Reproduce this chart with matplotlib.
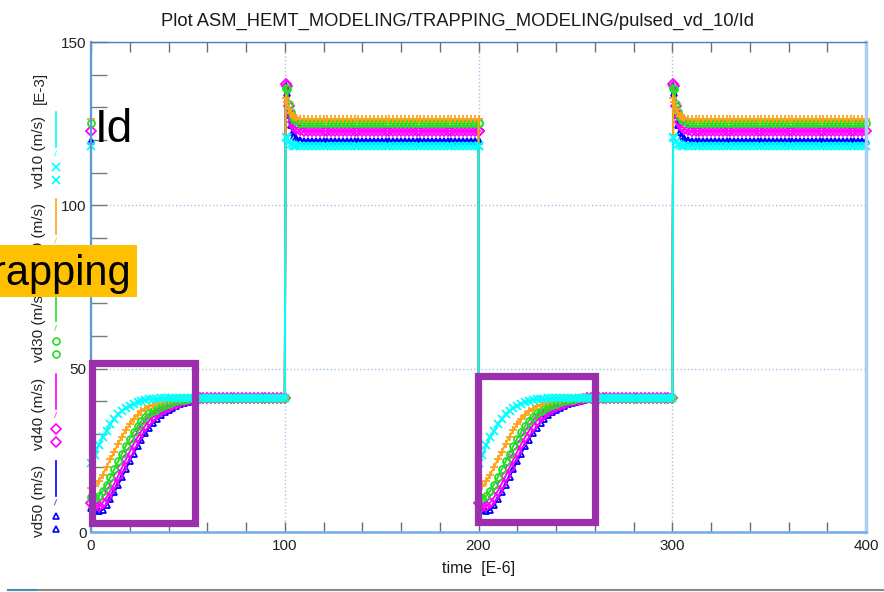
import numpy as np
import matplotlib.pyplot as plt
from matplotlib.patches import Rectangle
from matplotlib.lines import Line2D

plt.rcParams['font.family'] = ['Liberation Sans', 'DejaVu Sans']

W, H = 884, 592

# ---- data: one pulse period (off 0-100 us, on 100-200 us), Id in mA ----
series = ['vd10', 'vd20', 'vd30', 'vd40', 'vd50']

# off phase: t = 0 (end of previous pulse), then 0, 2, ..., 98
t_off = np.concatenate([[0.0], np.arange(0, 100, 2)])
off_start = {
    'vd10': [21.0, 23.5, 26.5, 29.0, 31.0, 33.0, 34.6, 36.0, 37.1, 38.0, 38.7, 39.3, 39.8, 40.1, 40.4,
             40.6, 40.7, 40.8, 40.9, 41.0, 41.0, 41.0, 41.0, 41.0, 41.0, 41.0, 41.0, 41.0, 41.0, 41.0],
    'vd20': [13.5, 14.0, 15.5, 17.5, 19.8, 22.2, 24.6, 27.0, 29.2, 31.2, 33.0, 34.6, 35.9, 37.0, 37.8,
             38.5, 39.0, 39.4, 39.8, 40.1, 40.3, 40.5, 40.7, 40.8, 40.9, 41.0, 41.0, 41.0, 41.0, 41.0],
    'vd30': [10.8, 10.3, 11.0, 12.5, 14.5, 16.8, 19.2, 21.6, 24.0, 26.4, 28.6, 30.6, 32.4, 34.0, 35.3,
             36.3, 37.1, 37.8, 38.4, 38.9, 39.3, 39.7, 40.0, 40.3, 40.5, 40.7, 40.9, 41.0, 41.0, 41.0],
    'vd40': [8.8, 8.0, 8.0, 9.0, 10.6, 12.6, 14.8, 17.2, 19.7, 22.2, 24.6, 26.9, 29.0, 30.9, 32.6,
             34.0, 35.2, 36.2, 37.0, 37.8, 38.4, 38.9, 39.3, 39.7, 40.0, 40.3, 40.5, 40.7, 40.9, 41.0],
    'vd50': [7.5, 6.8, 6.3, 6.8, 8.2, 10.0, 12.1, 14.4, 16.8, 19.3, 21.7, 24.0, 26.2, 28.3, 30.2,
             31.9, 33.4, 34.7, 35.8, 36.7, 37.5, 38.1, 38.6, 39.1, 39.5, 39.9, 40.2, 40.5, 40.7, 40.9],
}
off_settled = 41.0

# on phase: fast spike after the gate pulse, then settled current
t_on = np.concatenate([[100, 100.5, 101, 102, 103, 104, 105, 106, 108, 110], np.arange(112, 201, 2)])
on_start = {
    'vd10': [41.0, 121.0, 120.5, 119.5, 118.8, 118.5, 118.3, 118.2, 118.2, 118.2],
    'vd20': [41.0, 133.0, 131.5, 129.5, 128.2, 127.4, 126.9, 126.6, 126.4, 126.3],
    'vd30': [41.0, 136.0, 135.5, 131.0, 128.5, 127.0, 126.2, 125.7, 125.3, 125.1],
    'vd40': [41.0, 137.0, 136.5, 130.5, 127.5, 125.5, 124.3, 123.5, 123.0, 122.7],
    'vd50': [41.0, 136.5, 134.5, 127.5, 124.5, 122.5, 121.3, 120.6, 120.0, 119.7],
}
on_settled = {'vd10': 118.2, 'vd20': 126.3, 'vd30': 125.1, 'vd40': 122.7, 'vd50': 119.7}

n_periods = 2
period = 200

colors = {'vd10': '#00FFFF', 'vd20': '#FFA31A', 'vd30': '#22E022', 'vd40': '#FF00FF', 'vd50': '#0000FF'}
markers = {'vd10': 'x', 'vd20': '+', 'vd30': 'o', 'vd40': 'D', 'vd50': '^'}

# highlighted trapping windows (time range us, current range mA)
boxes = [((0.3, 53.7), (2.8, 51.7)), ((199.5, 259.9), (3.1, 47.8))]

fig = plt.figure(figsize=(W / 100, H / 100), dpi=100, facecolor='white')
ax = fig.add_axes([91 / W, 1 - 532 / H, 775 / W, 490 / H])

for name in reversed(series):
    n_flat = len(t_off) - 1 - len(off_start[name])
    y_off = [on_settled[name]] + off_start[name] + [off_settled] * n_flat
    y_on = on_start[name] + [on_settled[name]] * (len(t_on) - len(on_start[name]))
    t_one = np.concatenate([t_off, t_on])
    y_one = np.array(y_off + y_on)
    t_all = np.concatenate([t_one + k * period for k in range(n_periods)])
    y_all = np.tile(y_one, n_periods)
    hollow = markers[name] in ('o', 'D', '^')
    ax.plot(t_all, y_all, color=colors[name], lw=1.4, marker=markers[name],
            ms=5.0 if hollow else 5.8, mew=1.3,
            mfc='none' if hollow else colors[name], clip_on=False)

ax.set_xlim(0, 400)
ax.set_ylim(0, 150)
ax.set_xticks([0, 100, 200, 300, 400])
ax.set_xticks(np.arange(0, 401, 20), minor=True)
ax.set_yticks([0, 50, 100, 150])
ax.set_yticks(np.arange(0, 151, 10), minor=True)
ax.tick_params(axis='x', which='both', direction='in', top=True, length=7.5,
               width=1, color='#6E6E6E', labelsize=11, pad=5, labelcolor='#222222')
ax.tick_params(axis='y', which='both', direction='in', right=False, length=11.5,
               width=1, color='#7A7A7A', labelsize=11, pad=3, labelcolor='#222222')
ax.grid(True, which='major', color='#9FC5E8', linestyle=':', lw=1.0)

ax.spines['left'].set_color('#5B9BD5')
ax.spines['left'].set_linewidth(1.6)
ax.spines['bottom'].set_color('#6FAEE6')
ax.spines['bottom'].set_linewidth(1.8)
ax.spines['top'].set_color('#4F7DB5')
ax.spines['top'].set_linewidth(1.0)
ax.spines['right'].set_color('#A9CFF2')
ax.spines['right'].set_linewidth(2.5)

ax.set_title('Plot ASM_HEMT_MODELING/TRAPPING_MODELING/pulsed_vd_10/Id',
             fontsize=13.2, color='#1A1A1A', x=0.473, pad=12)
ax.set_xlabel('time  [E-6]', fontsize=11.5, color='#1A1A1A', labelpad=6)

# trapping windows
for (x0, x1), (y0, y1) in boxes:
    ax.add_patch(Rectangle((x0, y0), x1 - x0, y1 - y0, fill=False, ec='#9B2FAE',
                           lw=5.2, zorder=6, clip_on=False))


def fx(px):
    return px / W


def fy(py):
    return 1 - py / H


# rotated legend column on the left
fig.text(fx(40), fy(88), '[E-3]', rotation=90, ha='center', va='center', fontsize=11, color='#222222')
for i, name in enumerate(series):
    top = 112 + 87.2 * i
    fig.text(fx(39), fy(top + 40), f'{name} (m/s)', rotation=90, ha='center', va='center',
             fontsize=11, color='#222222')
    fig.add_artist(Line2D([fx(56), fx(56)], [fy(top), fy(top + 35)], color=colors[name], lw=1.2))
    fig.add_artist(Line2D([fx(54.5), fx(56.5)], [fy(top + 44), fy(top + 39)], color=colors[name],
                          lw=0.8, alpha=0.6))
    hollow = markers[name] in ('o', 'D', '^')
    for dy in (55, 68):
        fig.add_artist(Line2D([fx(56)], [fy(top + dy)], ls='none', marker=markers[name],
                              ms=5 if hollow else 6, mew=1.2, color=colors[name],
                              mfc='none' if hollow else colors[name]))

# callout labels
fig.text(fx(95), fy(142), 'Id', fontsize=33, color='black', ha='left', va='baseline', zorder=12)
fig.add_artist(Rectangle((0, fy(297)), fx(137), (297 - 245) / H, transform=fig.transFigure,
                         fc='#FFC000', ec='none', zorder=10))
fig.text(fx(131), fy(285), 'Trapping', fontsize=30, color='black', ha='right', va='baseline',
         zorder=11)

# thin rule along the bottom edge
fig.add_artist(Line2D([fx(8), fx(884)], [fy(590), fy(590)], color='#8A8A8A', lw=1.5))
fig.add_artist(Line2D([fx(8), fx(36)], [fy(590), fy(590)], color='#4A8FA8', lw=1.5))

fig.savefig('out.png', dpi=100, facecolor='white')
